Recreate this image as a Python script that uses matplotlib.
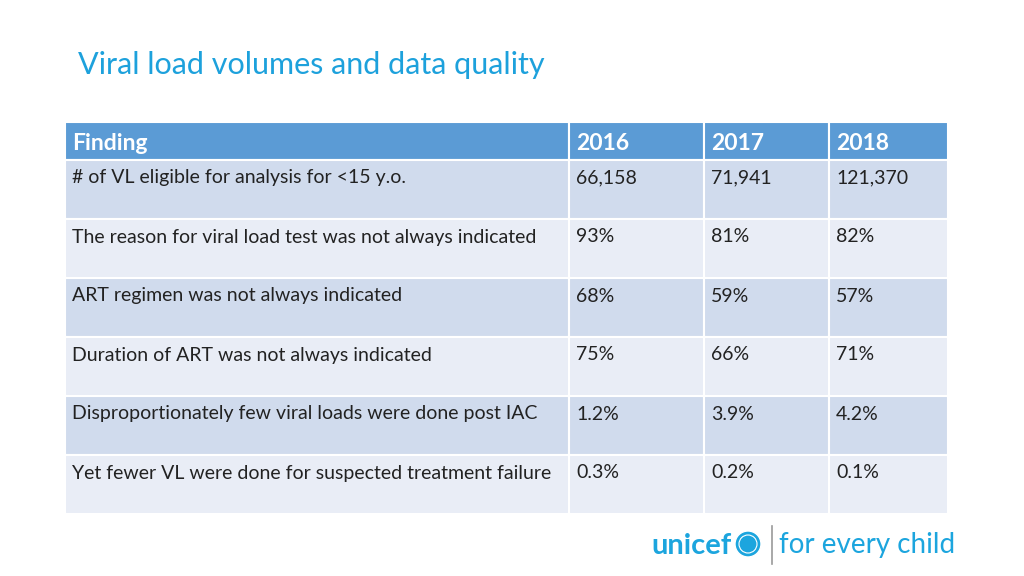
import matplotlib
matplotlib.use("Agg")
import matplotlib.pyplot as plt
from matplotlib.patches import Rectangle, Circle

# table content
columns = ["Finding", "2016", "2017", "2018"]
findings = [
    "# of VL eligible for analysis for <15 y.o.",
    "The reason for viral load test was not always indicated",
    "ART regimen was not always indicated",
    "Duration of ART was not always indicated",
    "Disproportionately few viral loads were done post IAC",
    "Yet fewer VL were done for suspected treatment failure",
]
vals_2016 = ["66,158", "93%", "68%", "75%", "1.2%", "0.3%"]
vals_2017 = ["71,941", "81%", "59%", "66%", "3.9%", "0.2%"]
vals_2018 = ["121,370", "82%", "57%", "71%", "4.2%", "0.1%"]

FONT = "Lato"
fig = plt.figure(figsize=(10.24, 5.76), dpi=100)
ax = fig.add_axes([0, 0, 1, 1])
ax.set_xlim(0, 1024)
ax.set_ylim(576, 0)
ax.axis("off")

# title
ax.text(78, 65, "Viral load volumes and data quality", fontsize=22, color="#1DA1DC",
        family=FONT, va="center", ha="left")

# table geometry (pixels)
col_edges = [65, 569, 704, 829, 948]
head_top, head_bot = 122, 160
row_h = 59
header_col = "#5B9BD5"
row_cols = ["#D0DBED", "#E9EDF6"]
line_col = "white"

rows = list(zip(findings, vals_2016, vals_2017, vals_2018))

for j, name in enumerate(columns):
    x0, x1 = col_edges[j], col_edges[j + 1]
    ax.add_patch(Rectangle((x0, head_top), x1 - x0, head_bot - head_top,
                           facecolor=header_col, edgecolor=line_col, lw=1.5))
    ax.text(x0 + 7, (head_top + head_bot) / 2 + 3, name, color="white", fontsize=16.5,
            fontweight="bold", family=FONT, va="center", ha="left")

for i, row in enumerate(rows):
    y0 = head_bot + i * row_h
    for j, cell in enumerate(row):
        x0, x1 = col_edges[j], col_edges[j + 1]
        ax.add_patch(Rectangle((x0, y0), x1 - x0, row_h,
                               facecolor=row_cols[i % 2], edgecolor=line_col, lw=1.5))
        ax.text(x0 + 7, y0 + 18, cell, color="#222222", fontsize=14,
                family=FONT, va="center", ha="left")

# unicef logo
logo_blue = "#1CA5DE"
ax.text(651, 546, "unicef", color=logo_blue, fontsize=21, fontweight="bold",
        family=FONT, va="center", ha="left")
ax.add_patch(Circle((748, 544), 13, facecolor=logo_blue, edgecolor="white", lw=1))
ax.add_patch(Circle((748, 544), 9, facecolor="none", edgecolor="white", lw=0.8))
ax.plot([772, 772], [526, 564], color="#9a9a9a", lw=1.2)
ax.text(779, 545, "for every child", color=logo_blue, fontsize=20,
        family=FONT, va="center", ha="left")

fig.savefig("out.png", dpi=100, facecolor="white")
